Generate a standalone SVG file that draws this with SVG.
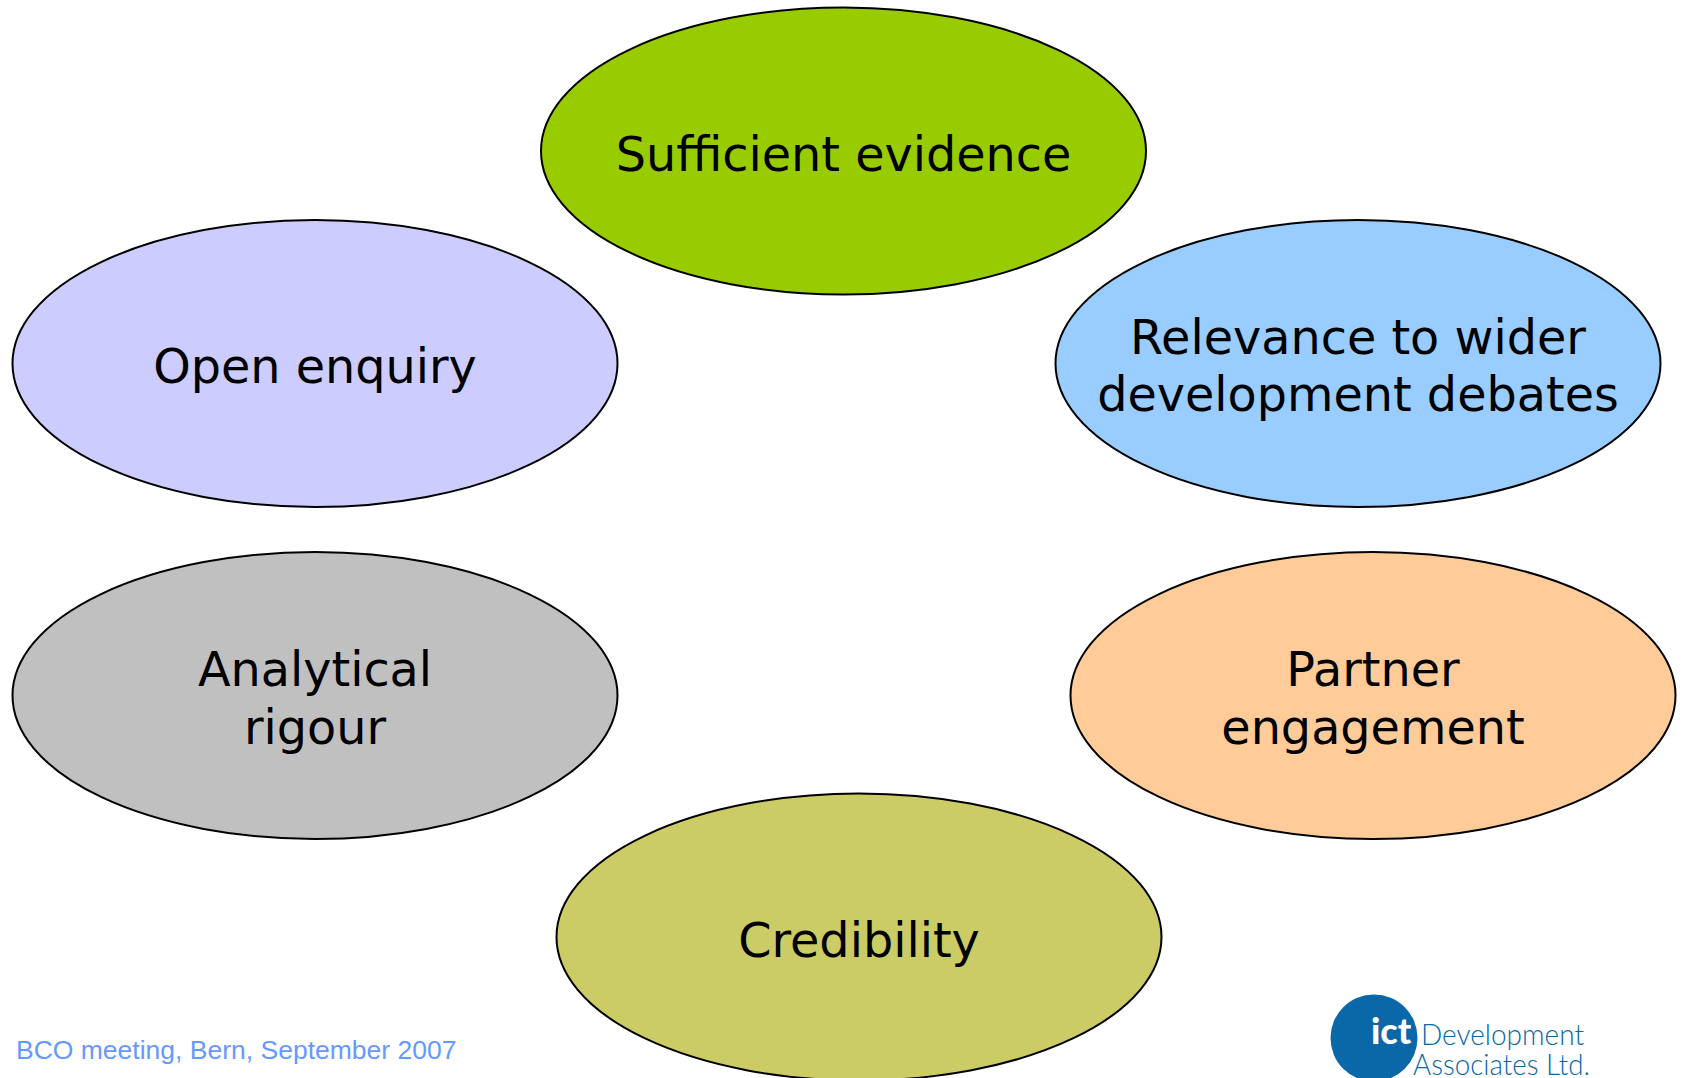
<svg xmlns="http://www.w3.org/2000/svg" width="1682" height="1078" viewBox="0 0 1682 1078">
<style>
.n{stroke:#000;stroke-width:2}
.t{font-family:"DejaVu Sans",Verdana,sans-serif;font-size:47.7px;fill:#000;text-anchor:middle}
.l{font-family:Lato,sans-serif;font-weight:300;fill:#0a67a8;font-size:30px}
</style>
<rect width="1682" height="1078" fill="#fff"/>
<g id="connectors"></g>
<g id="sufficient"><ellipse class="n" cx="843.500" cy="151" rx="302.500" ry="143.500" fill="#99cc00"/><text class="t" x="843.500" y="171">Sufficient evidence</text></g>
<g id="open"><ellipse class="n" cx="315" cy="363.500" rx="302.500" ry="143.500" fill="#ccccff"/><text class="t" x="315" y="383">Open enquiry</text></g>
<g id="relevance"><ellipse class="n" cx="1358" cy="363.500" rx="302.500" ry="143.500" fill="#99ccff"/><text class="t" x="1358" y="354">Relevance to wider</text><text class="t" x="1358" y="411">development debates</text></g>
<g id="analytical"><ellipse class="n" cx="315" cy="695.500" rx="302.500" ry="143.500" fill="#c0c0c0"/><text class="t" x="315" y="686">Analytical</text><text class="t" x="315" y="744">rigour</text></g>
<g id="partner"><ellipse class="n" cx="1373" cy="695.500" rx="302.500" ry="143.500" fill="#ffcc99"/><text class="t" x="1373" y="686">Partner</text><text class="t" x="1373" y="744">engagement</text></g>
<g id="credibility"><ellipse class="n" cx="859" cy="937" rx="302.500" ry="143.500" fill="#cccc66"/><text class="t" x="859" y="957">Credibility</text></g>
<text x="16" y="1059" font-family="Liberation Sans,Arial,sans-serif" font-size="26.500" fill="#6699ff">BCO meeting, Bern, September 2007</text>
<g id="logo">
<circle cx="1374" cy="1038" r="43.500" fill="#0a67a8"/>
<text x="1371" y="1044" font-family="Lato,sans-serif" font-weight="900" font-size="36" fill="#fff">ict</text>
<text class="l" x="1421" y="1045" textLength="163" lengthAdjust="spacingAndGlyphs">Development</text>
<text class="l" x="1413" y="1075" textLength="177" lengthAdjust="spacingAndGlyphs">Associates Ltd.</text>
</g>
</svg>
